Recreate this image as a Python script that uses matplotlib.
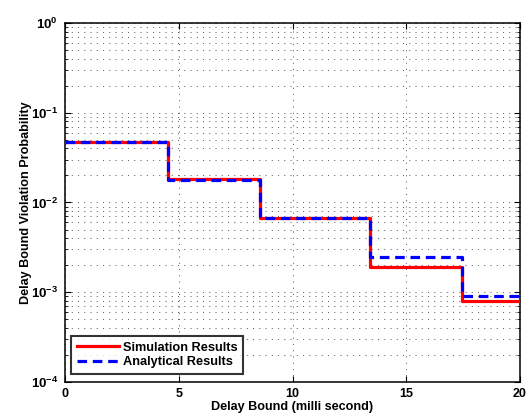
import matplotlib
matplotlib.use("Agg")
import matplotlib.pyplot as plt
from matplotlib.ticker import LogLocator, NullFormatter, FixedLocator, FixedFormatter

plt.rcParams['font.family'] = ['Liberation Sans', 'DejaVu Sans']
plt.rcParams['font.weight'] = 'bold'
plt.rcParams['mathtext.fontset'] = 'custom'
plt.rcParams['mathtext.rm'] = 'Liberation Sans:bold'
plt.rcParams['mathtext.it'] = 'Liberation Sans:bold'
plt.rcParams['mathtext.bf'] = 'Liberation Sans:bold'

# Data
step_edges = [0, 4.54, 8.57, 13.41, 17.44, 20]
sim_values = [0.0475, 0.0183, 0.00667, 0.0019, 0.00079]
ana_values = [0.0475, 0.0178, 0.00667, 0.00245, 0.00091]
xticks = [0, 5, 10, 15, 20]
yticks = [1e-4, 1e-3, 1e-2, 1e-1, 1e0]
ytick_labels = [r'$\mathregular{10^{-4}}$', r'$\mathregular{10^{-3}}$', r'$\mathregular{10^{-2}}$',
                r'$\mathregular{10^{-1}}$', r'$\mathregular{10^{0}}$']
labels = ["Simulation Results", "Analytical Results"]

fig = plt.figure(figsize=(5.30, 4.19), dpi=100)
ax = fig.add_axes([65/530, 37/419, 455/530, 359/419])

ax.step(step_edges, sim_values + [sim_values[-1]], where='post', color='#ff0000',
        lw=2.3, label=labels[0], zorder=3)
ax.step(step_edges, ana_values + [ana_values[-1]], where='post', color='#0000ff',
        lw=2.3, ls=(0, (3, 1.8)), label=labels[1], zorder=4)

ax.set_yscale('log')
ax.set_xlim(0, 20)
ax.set_ylim(1e-4, 1)
ax.set_xticks(xticks)
ax.set_xticklabels([str(t) for t in xticks])
ax.yaxis.set_major_locator(FixedLocator(yticks))
ax.yaxis.set_major_formatter(FixedFormatter(ytick_labels))
ax.yaxis.set_minor_locator(LogLocator(base=10, subs=range(2, 10), numticks=10))
ax.yaxis.set_minor_formatter(NullFormatter())

ax.grid(True, which='major', axis='both', color='#666666', ls=(0, (1, 5)), lw=0.75)
ax.grid(True, which='minor', axis='y', color='#666666', ls=(0, (1, 5)), lw=0.75)

ax.tick_params(which='both', direction='in', top=True, right=True, labelsize=9)
ax.tick_params(which='major', length=4)
ax.tick_params(which='minor', length=2)
ax.tick_params(axis='x', which='major', pad=4)
ax.tick_params(axis='y', which='major', labelsize=9.5, pad=5)
for s in ax.spines.values():
    s.set_linewidth(1.1)

ax.set_xlabel("Delay Bound (milli second)", fontsize=9.1, fontweight='bold')
ax.set_ylabel("Delay Bound Violation Probability", fontsize=9.1, fontweight='bold')
ax.xaxis.set_label_coords(0.5, -0.052)
ax.yaxis.set_label_coords(-0.073, 0.5)

leg = ax.legend(loc='lower left', bbox_to_anchor=(6/455, 8/359), borderaxespad=0,
                fontsize=9.2, frameon=True, fancybox=False,
                edgecolor='black', borderpad=0.45, handlelength=3.3, handletextpad=0.3,
                labelspacing=0.2)
leg.get_frame().set_linewidth(1.5)
for t in leg.get_texts():
    t.set_fontweight('bold')

fig.savefig("out.png", dpi=100)
